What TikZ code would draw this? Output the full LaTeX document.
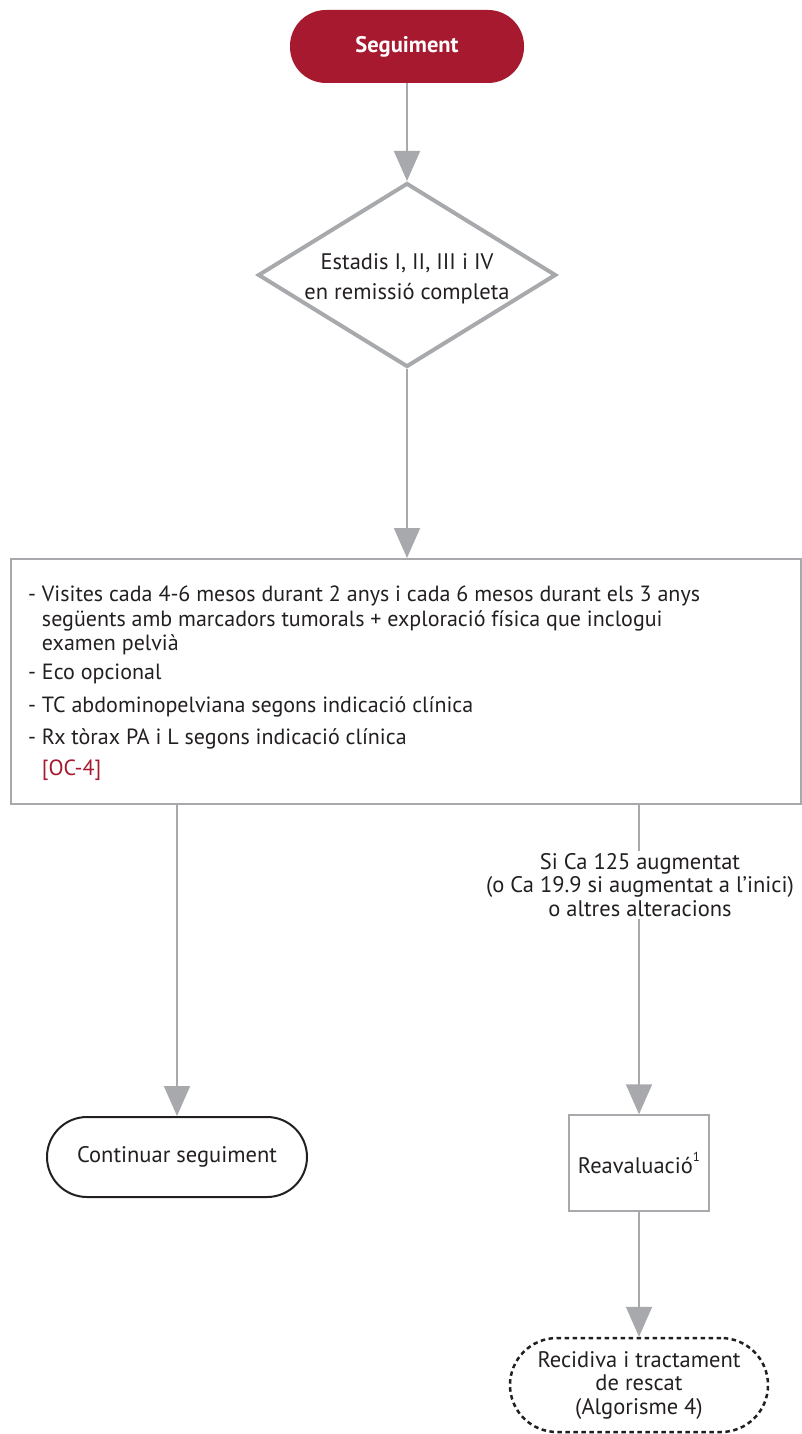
\documentclass[tikz,border=0pt]{standalone}
\usepackage{fontspec}
\setmainfont{PT Sans}
\usetikzlibrary{shapes.geometric,arrows.meta}
\definecolor{crim}{HTML}{A6192E}
\definecolor{gry}{HTML}{A7A9AC}
\definecolor{ink}{HTML}{231F20}
\tikzset{
  conn/.style={draw=gry, line width=2pt, -{Triangle[length=30pt,width=26pt]}},
  startnode/.style={rounded corners=36pt, fill=crim, text=white, font=\bfseries\fontsize{22.5}{24}\selectfont, minimum width=234pt, minimum height=73pt},
  decide/.style={diamond, draw=gry, line width=4pt, minimum width=298pt, minimum height=184pt, aspect=1.62, inner sep=0pt},
  plaintext/.style={align=center, text=ink, inner sep=0pt},
  bigbox/.style={draw=gry, line width=2pt, minimum width=790pt, minimum height=245pt, inner sep=0pt},
  endnode/.style={draw=ink, line width=2pt, rounded corners=40pt, minimum width=260pt, minimum height=80pt, text=ink},
  procbox/.style={draw=gry, line width=1.5pt, minimum width=140pt, minimum height=96pt, text=ink},
  refnode/.style={draw=ink, line width=2.5pt, dash pattern=on 4.5pt off 3.5pt, rounded corners=47pt, minimum width=258pt, minimum height=94pt, align=center, text=ink},
  lbl/.style={fill=white, align=center, text=ink, inner sep=2pt},
  boxtext/.style={align=left, text=ink, inner sep=0pt, font=\fontsize{22}{24.5}\selectfont}
}
\newcommand{\supone}{\raisebox{0.5em}{\fontsize{13}{13}\selectfont 1}}
\begin{document}
\begin{tikzpicture}[x=1pt,y=-1pt, font=\fontsize{22.5}{23.5}\selectfont]
\useasboundingbox (0,0) rectangle (801,1434);
\node[startnode] (seg) at (407,46.5) {Seguiment};
\node[decide] (diam) at (407,275) {};
\node[plaintext] (diamtxt) at (407,279) {Estadis I, II, III i IV\\[6pt]en remissió completa};
\node[bigbox, anchor=north west] (box) at (10,558) {};
\node[boxtext, anchor=north west] (boxtxt) at (28,586) {%
- Visites cada 4-6 mesos durant 2 anys i cada 6 mesos durant els 3 anys\\
\hphantom{- }següents amb marcadors tumorals + exploració física que inclogui\\
\hphantom{- }examen pelvià\\[4.5pt]
- Eco opcional\\[8pt]
- TC abdominopelviana segons indicació clínica\\[7.5pt]
- Rx tòrax PA i L segons indicació clínica\\[6.5pt]
\hphantom{- }\textcolor{crim}{[OC-4]}};
\node[endnode] (cont) at (177,1157) {Continuar seguiment};
\node[procbox] (reav) at (639,1163) {Reavaluació\supone};
\node[refnode] (rec) at (639,1385) {Recidiva i tractament\\de rescat\\(Algorisme 4)};
\draw[conn] (seg.south) -- (diam.north);
\draw[conn] (diam.south) -- (diam.south |- box.north);
\draw[conn] (box.south -| cont.north) -- (cont.north);
\draw[conn] (box.south -| reav.north) -- (reav.north);
\draw[conn] (reav.south) -- (rec.north);
\node[lbl] (lab) at (640,885) {Si Ca 125 augmentat\\(o Ca 19.9 si augmentat a l’inici)\\o altres alteracions};
\end{tikzpicture}
\end{document}
